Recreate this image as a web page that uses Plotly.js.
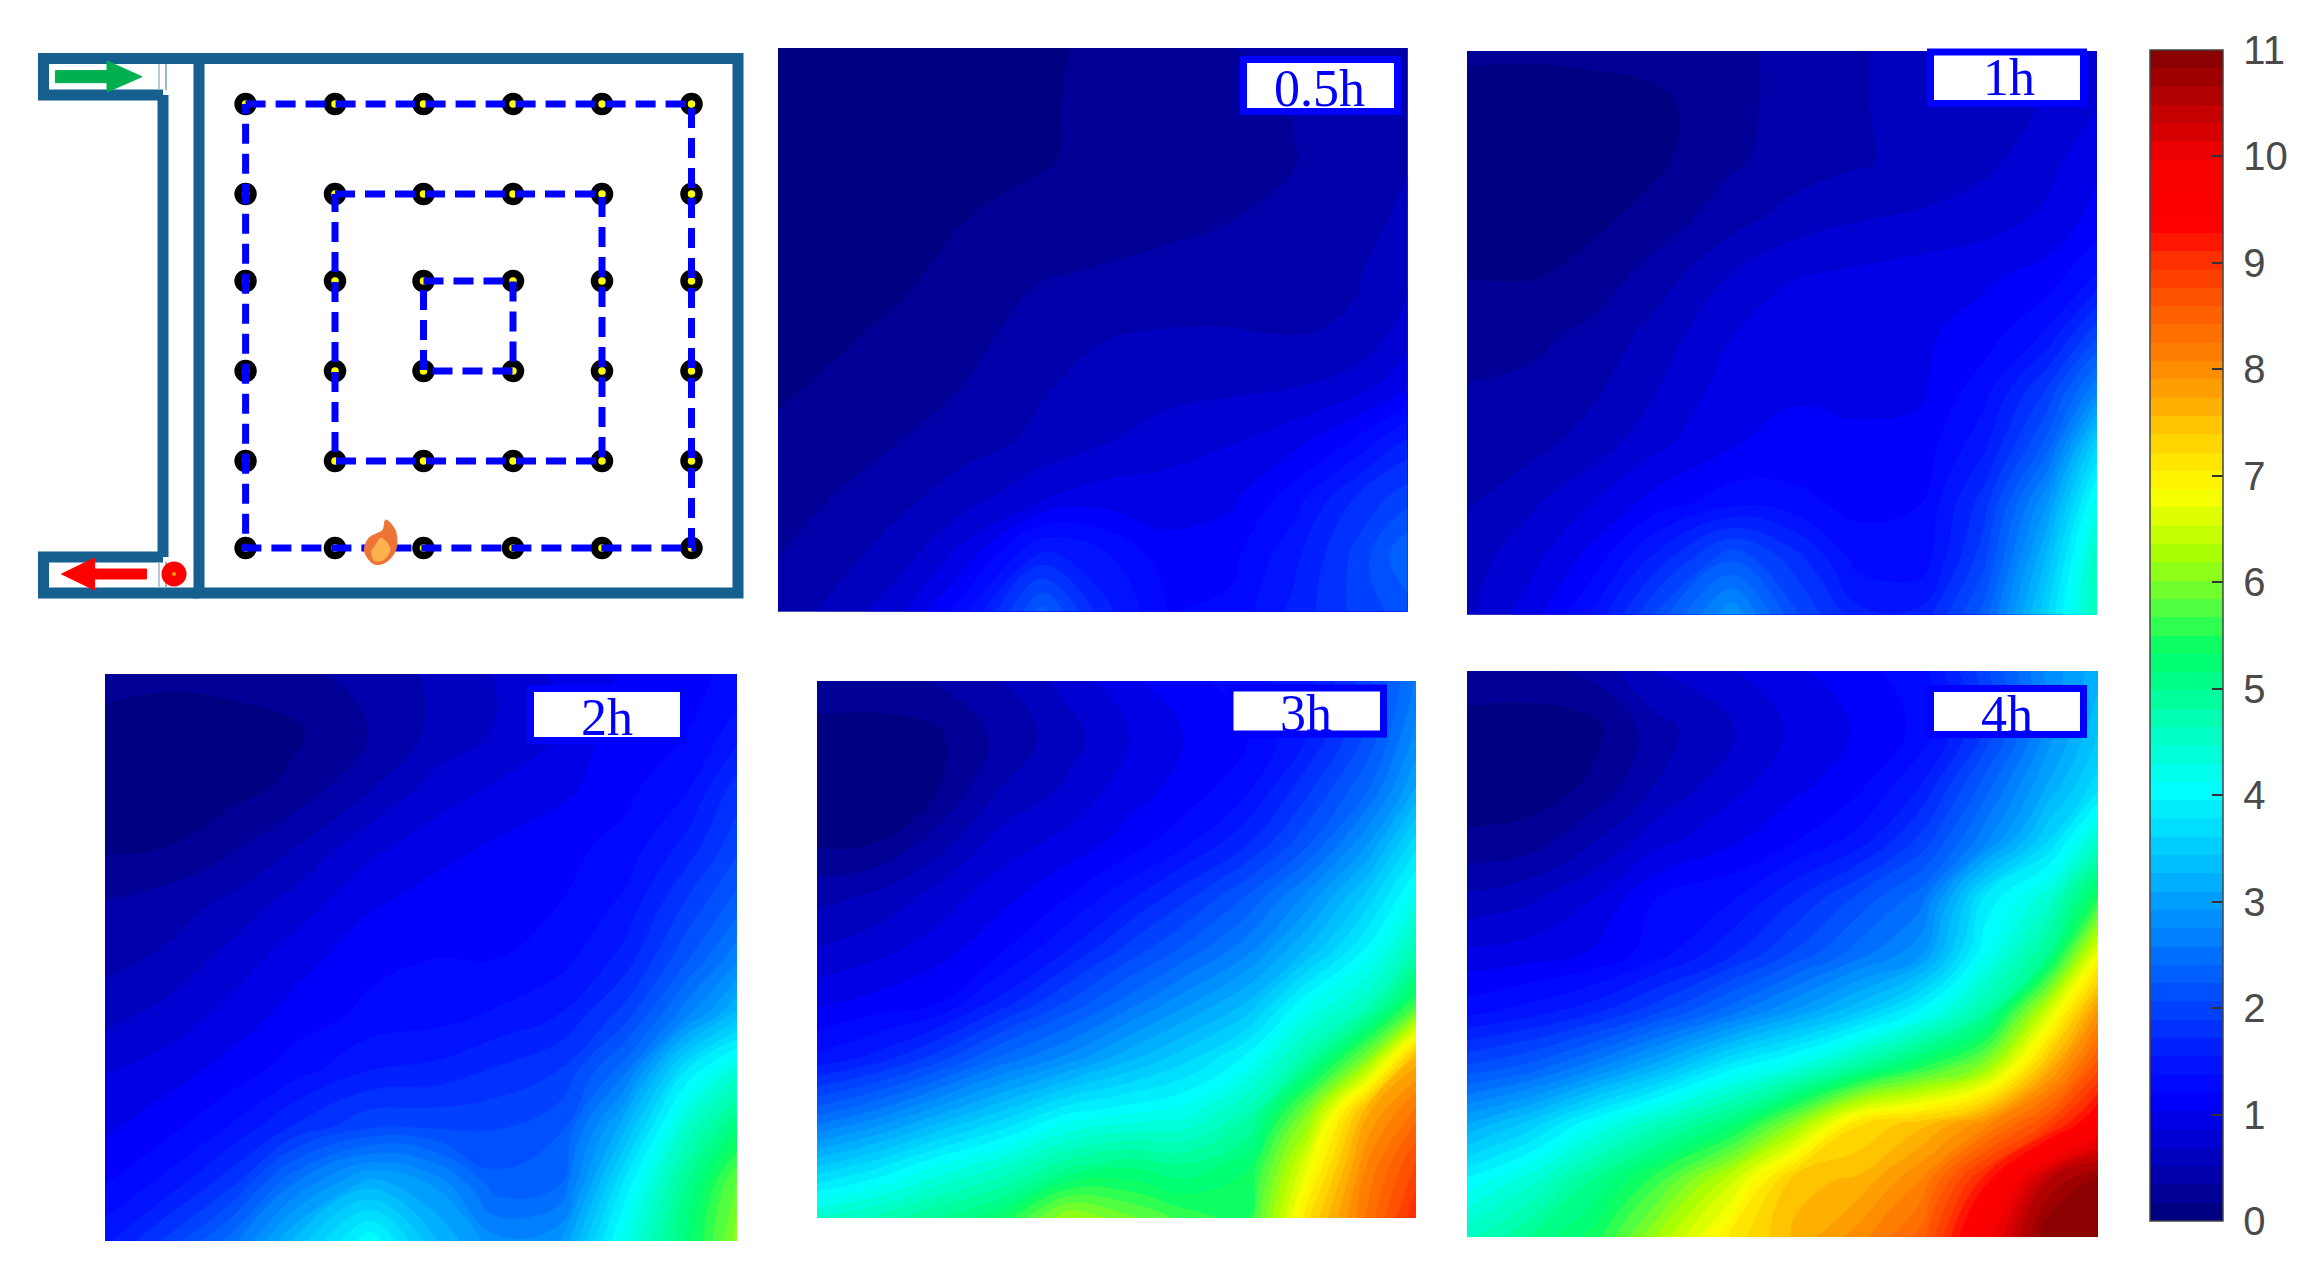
<!DOCTYPE html>
<html><head><meta charset="utf-8">
<script src="https://cdn.plot.ly/plotly-3.0.1.min.js"></script>
<style>html,body{margin:0;padding:0;background:#fff}#c{width:2306px;height:1270px}</style>
</head><body><div id="c"></div>
<script>
const W=2306,H=1270;
const xNodes=[0,0.1,0.2,0.3,0.42,0.52,0.62,0.72,0.82,0.92,1];
const yNodes=[0,0.1,0.2,0.3,0.4,0.5,0.6,0.7,0.8,0.9,1];
const z05=[
[.08,.08,.09,.10,.15,.2,.26,.34,.4,.44,.48],
[.06,.06,.07,.09,.16,.2,.25,.29,.35,.42,.48],
[.06,.06,.07,.1,.16,.21,.25,.29,.34,.4,.5],
[.07,.08,.1,.17,.22,.27,.3,.34,.37,.44,.56],
[.08,.1,.15,.22,.33,.36,.39,.42,.44,.5,.66],
[.1,.15,.2,.28,.43,.5,.52,.52,.5,.54,.76],
[.15,.2,.27,.35,.5,.58,.62,.65,.68,.78,1.0],
[.2,.27,.35,.45,.56,.68,.78,.85,.98,1.25,1.6],
[.27,.36,.48,.62,.85,.95,.95,1.0,1.3,1.75,2.0],
[.34,.46,.62,.95,1.6,1.4,1.1,1.15,1.5,1.95,2.4],
[.42,.58,.85,1.35,2.3,1.6,1.2,1.25,1.6,1.95,2.15]];
const z1=[
[.2,.2,.22,.25,.3,.4,.5,.58,.62,.68,.75],
[.1,.08,.08,.12,.3,.4,.5,.58,.62,.7,.85],
[.08,.07,.08,.14,.32,.42,.5,.56,.65,.8,1.0],
[.09,.09,.13,.25,.45,.6,.68,.72,.78,.9,1.1],
[.17,.16,.25,.42,.7,.85,.9,.95,1.0,1.1,1.4],
[.3,.3,.38,.58,.85,1.0,1.0,1.0,1.1,1.4,2.0],
[.35,.38,.48,.68,.95,1.0,.95,1.0,1.3,1.9,2.7],
[.4,.46,.6,.82,1.02,1.1,1.1,1.1,1.5,2.3,3.6],
[.5,.65,.85,1.1,1.3,1.25,1.15,1.2,1.8,2.9,4.2],
[.6,.8,1.1,1.6,2.2,1.8,1.3,1.25,2.0,3.3,4.6],
[.65,.95,1.4,2.1,2.9,2.1,1.6,1.6,2.3,3.6,4.7]];
const z2=[
[.25,.22,.25,.3,.4,.55,.7,.9,1.05,1.15,1.25],
[.1,.07,.08,.14,.35,.55,.7,.85,1.15,1.2,1.45],
[.08,.07,.1,.22,.5,.75,.88,.98,1.15,1.35,1.8],
[.13,.16,.3,.5,.8,.95,1.05,1.15,1.25,1.6,2.0],
[.35,.42,.55,.75,1.0,1.1,1.15,1.2,1.4,1.9,2.3],
[.45,.55,.75,.95,1.15,1.2,1.2,1.3,1.6,2.2,2.7],
[.62,.75,.92,1.1,1.25,1.3,1.4,1.55,1.95,2.7,3.3],
[.85,.95,1.1,1.3,1.55,1.6,1.75,1.9,2.5,3.8,4.4],
[1.0,1.15,1.4,1.75,2.05,2.05,2.05,2.2,3.2,4.5,5.2],
[1.2,1.45,1.85,2.6,3.2,2.9,2.3,2.4,3.8,5.0,5.9],
[1.5,1.95,2.5,3.3,4.1,3.3,2.8,2.9,4.2,5.2,6.1]];
const z3=[
[.3,.3,.35,.5,.75,1.0,1.15,1.3,1.5,2.0,2.6],
[.1,.08,.14,.38,.62,.85,1.05,1.2,1.55,2.1,2.8],
[.08,.07,.16,.5,.72,.95,1.1,1.35,1.85,2.4,3.1],
[.14,.17,.42,.75,.92,1.1,1.35,1.7,2.2,2.9,3.7],
[.45,.55,.75,.95,1.2,1.5,1.85,2.25,2.8,3.5,4.2],
[.7,.8,.95,1.15,1.55,1.95,2.3,2.7,3.3,4.0,4.7],
[1.0,1.1,1.2,1.6,2.1,2.5,2.9,3.3,4.1,4.6,5.6],
[1.4,1.6,1.95,2.4,2.8,3.2,3.55,4.0,4.8,6.0,7.6],
[2.3,2.6,3.0,3.4,3.9,4.05,4.2,4.7,6.0,7.7,8.3],
[3.4,3.7,4.1,4.4,4.9,5.1,5.0,5.3,6.7,8.1,8.8],
[4.5,4.7,5.0,5.3,6.2,5.9,5.6,5.5,7.2,8.3,9.1]];
const z4=[
[.3,.3,.4,.7,.85,1.0,1.15,1.3,2.0,2.8,3.2],
[.1,.07,.12,.45,.68,.9,1.05,1.25,1.9,2.8,3.4],
[.08,.07,.2,.52,.8,.98,1.15,1.55,2.3,3.1,3.7],
[.2,.25,.5,.8,1.0,1.2,1.45,1.95,2.7,3.6,4.5],
[.55,.65,.85,1.2,1.35,1.7,2.1,2.5,3.8,4.4,5.5],
[.9,.95,1.05,1.3,1.7,2.1,2.5,2.9,4.1,5.0,6.8],
[1.3,1.45,1.65,2.0,2.5,2.95,3.4,4.0,4.8,6.5,7.9],
[2.1,2.3,2.7,3.2,3.9,4.3,4.9,5.5,6.1,7.6,8.7],
[3.1,3.5,4.1,4.6,5.2,6.1,7.2,7.5,8.0,8.8,9.6],
[4.0,4.4,5.0,5.6,6.5,7.5,7.6,8.1,9.2,10.5,10.9],
[4.6,5.0,5.4,6.2,7.1,7.6,8.0,8.5,9.8,11,11]];
const panelNames=['0.5h','1h','2h','3h','4h'];
const panelZ=[z05,z1,z2,z3,z4];
const tickValues=[0,1,2,3,4,5,6,7,8,9,10,11];
const colorStops=[[0,'rgb(0,0,120)'],[1.15,'rgb(0,0,255)'],[1.5,'rgb(0,20,255)'],[4.05,'rgb(0,255,255)'],[5.35,'rgb(0,255,105)'],[5.8,'rgb(90,255,60)'],[6.3,'rgb(175,255,0)'],[6.85,'rgb(255,255,0)'],[7.3,'rgb(255,215,0)'],[7.7,'rgb(255,170,0)'],[8.1,'rgb(255,130,0)'],[8.6,'rgb(255,90,0)'],[9.0,'rgb(255,50,0)'],[9.35,'rgb(255,0,0)'],[9.95,'rgb(245,0,0)'],[11,'rgb(130,0,0)']];
// schematic, axis units = picture pixels
const sensorX=[245.6,335,423.5,513,602,691.5];
const sensorY=[104,194,281,371,461,548];
const wallMainX=[199,738,738,199,199], wallMainY=[58.5,58.5,593,593,58.5];
const wallInletX=[199,43.5,43.5,163], wallInletY=[58.5,58.5,95,95];
const wallOutletX=[199,43.5,43.5,163], wallOutletY=[593,593,557,557];
const wallSideX=[163,163], wallSideY=[95,557];
const arrowGreenX=[55.4,107,107,142,107,107,55.4,55.4], arrowGreenY=[70.6,70.6,61,76.7,92,82.7,82.7,70.6];
const arrowRedX=[146.5,94.6,94.6,61.5,94.6,94.6,146.5,146.5], arrowRedY=[569,569,558,574,590,579,579,569];
const flameOuterX=[385.7,395,396,386,374,364.5,369,376,383,385.7], flameOuterY=[520,530,549,562,564,551,538,534,530,520];
const flameInnerX=[381,390,383,374,372,376,381], flameInnerY=[538,549,560,560,551,545,538];
const probeX=[174], probeY=[574];

const labelLeft=[1247,1934,534,1233.5,1934], labelTop=[63,55.5,692,691.5,692], labelRight=[1394,2080,680,1380,2080], labelBottom=[108,100,737,730.5,731];
const labelCx=[1319,2009,607,1306,2007], labelCy=[89,78,717,713,714];
const panelLeft=[778,1467,105,817,1467], panelRight=[1407.6,2097,737,1416,2098], panelTop=[48,51,674,681,671], panelBottom=[611.6,614.5,1241,1218,1237];

const fx=p=>p/W, fy=p=>1-p/H;
const colorscale=colorStops.map(s=>[s[0]/11,s[1]]);
const traces=[], layout={width:W,height:H,margin:{l:0,r:0,t:0,b:0,pad:0},paper_bgcolor:'#fff',plot_bgcolor:'rgba(0,0,0,0)',showlegend:false,shapes:[],annotations:[],font:{family:'"Liberation Sans",Arial,sans-serif'}};
function axis(dom,range){return {domain:dom,range:range,visible:false,showgrid:false,zeroline:false,fixedrange:true};}
layout.xaxis=axis([fx(29),fx(750)],[29,750]);
layout.yaxis=axis([fy(606),fy(44)],[606,44]);
const WALL='#15608f';
function line(x,y,w,c,dash){traces.push({type:'scatter',mode:'lines',x:x,y:y,xaxis:'x',yaxis:'y',hoverinfo:'skip',line:{color:c,width:w,dash:dash||'solid'}});}
function poly(x,y,c,shape){traces.push({type:'scatter',mode:'lines',x:x,y:y,xaxis:'x',yaxis:'y',fill:'toself',fillcolor:c,hoverinfo:'skip',line:{color:c,width:1,shape:shape||'linear'}});}
line(wallMainX,wallMainY,11,WALL);
line(wallInletX,wallInletY,11,WALL);
line(wallOutletX,wallOutletY,11,WALL);
line(wallSideX,wallSideY,11,WALL);
line([166,166],[64,90],2,'#9db9cc');
line([166,166],[562,588],2,'#9db9cc');
line([159,159],[64,90],1.5,'#9db9cc');
line([159,159],[562,588],1.5,'#9db9cc');
poly(arrowGreenX,arrowGreenY,'#00b050');
poly(arrowRedX,arrowRedY,'#ff0000');
traces.push({type:'scatter',mode:'markers',x:probeX,y:probeY,xaxis:'x',yaxis:'y',hoverinfo:'skip',marker:{size:25,color:'#ff0000',line:{width:0}}});
traces.push({type:'scatter',mode:'markers',x:probeX,y:probeY,xaxis:'x',yaxis:'y',hoverinfo:'skip',marker:{size:4,color:'#ff9a00',line:{width:0}}});
const gx=[],gy=[];
sensorY.forEach(v=>sensorX.forEach(u=>{gx.push(u);gy.push(v);}));
traces.push({type:'scatter',mode:'markers',x:gx,y:gy,xaxis:'x',yaxis:'y',hoverinfo:'skip',marker:{size:15,color:'#ffff00',line:{color:'#000',width:7.5}}});
[[0,5],[1,4],[2,3]].forEach(r=>{
  const a=sensorX[r[0]],b=sensorX[r[1]],t=sensorY[r[0]],u=sensorY[r[1]];
  line([a,b,b,a,a],[t,t,u,u,t],7,'#0000ff','20px,10px');
});
poly(flameOuterX,flameOuterY,'#ee7436','spline');
poly(flameInnerX,flameInnerY,'#fbb24e','spline');
panelNames.forEach((n,i)=>{
  const k=i+2;
  layout['xaxis'+k]=axis([fx(panelLeft[i]),fx(panelRight[i])],[0,1]);
  layout['yaxis'+k]=axis([fy(panelBottom[i]),fy(panelTop[i])],[1,0]);
  const t={type:'contour',name:n,x:xNodes,y:yNodes,z:panelZ[i],xaxis:'x'+k,yaxis:'y'+k,zmin:0,zmax:11,autocontour:false,
    contours:{start:0,end:11,size:11/64,coloring:'fill',showlines:false},line:{width:0,smoothing:1.3},colorscale:colorscale,showscale:i===4,hoverinfo:'skip'};
  if(i===4){t.colorbar={x:2150/W,xanchor:'left',xref:'paper',y:fy(50),yanchor:'top',yref:'paper',len:(1221-50)/H,lenmode:'fraction',thickness:73,thicknessmode:'pixels',xpad:0,ypad:0,
    outlinecolor:'#444',outlinewidth:1.5,borderwidth:0,tickmode:'array',tickvals:tickValues,ticktext:tickValues.map(v=>'\u00a0'+v),ticks:'inside',ticklen:11,tickwidth:2,tickcolor:'#333',tickfont:{family:'"Liberation Sans",Arial,sans-serif',size:40,color:'#4a4a4a'}};}
  traces.push(t);
  layout.shapes.push({type:'rect',xref:'paper',yref:'paper',x0:fx(labelLeft[i]-3.5),x1:fx(labelRight[i]+3.5),y0:fy(labelTop[i]-3.5),y1:fy(labelBottom[i]+3.5),fillcolor:'#fff',line:{color:'#0000ff',width:7},layer:'above'});
  layout.annotations.push({text:n,showarrow:false,xref:'paper',yref:'paper',x:fx(labelCx[i]),y:fy(labelCy[i]),xanchor:'center',yanchor:'middle',font:{family:'"Liberation Serif","Times New Roman",serif',size:52,color:'#0000ff'}});
});
Plotly.newPlot('c',traces,layout,{displayModeBar:false,staticPlot:true});
</script></body></html>
